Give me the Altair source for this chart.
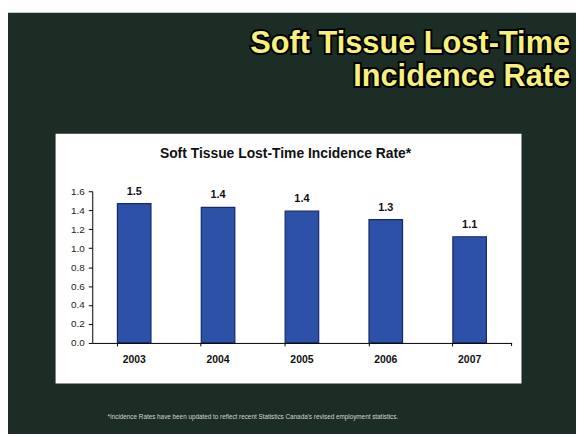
import altair as alt
import pandas as pd

years = ["2003", "2004", "2005", "2006", "2007"]
rates = [1.47, 1.43, 1.39, 1.30, 1.12]
labels = ["1.5", "1.4", "1.4", "1.3", "1.1"]
y_ticks = [0.0, 0.2, 0.4, 0.6, 0.8, 1.0, 1.2, 1.4, 1.6]

slide_title = ["Soft Tissue Lost-Time", "Incidence Rate"]
chart_title = "Soft Tissue Lost-Time Incidence Rate*"
footnote = "*Incidence Rates have been updated to reflect recent Statistics Canada's revised employment statistics."

df = pd.DataFrame({"year": years, "rate": rates, "label": labels})

W, H = 423, 153
one = alt.Data(values=[{"a": 1}])

slide = alt.Chart(one).mark_rect(color="#1c2d26").encode(
    x=alt.value(-85), x2=alt.value(488), y=alt.value(-180), y2=alt.value(246)
)
panel = alt.Chart(one).mark_rect(color="#ffffff").encode(
    x=alt.value(-37), x2=alt.value(433), y=alt.value(-58), y2=alt.value(194)
)

xs = alt.Scale(domain=years, paddingInner=0.6, paddingOuter=0.3)
ys = alt.Scale(domain=[0, 1.6], nice=False)

x_axis = alt.Axis(labelAngle=0, bandPosition=0, tickSize=3, labelPadding=9,
                  labelFont="Liberation Sans", labelFontSize=10.5, labelFontWeight="bold",
                  labelColor="#111", domainColor="#000", tickColor="#000", zindex=1)
y_axis = alt.Axis(values=y_ticks, format=".1f", tickSize=4, labelPadding=4,
                  labelOverlap=False, labelFlush=False,
                  labelFont="Liberation Sans", labelFontSize=10,
                  labelColor="#222", domainColor="#000", tickColor="#000",
                  grid=False, zindex=1)

bars = alt.Chart(df).mark_bar(color="#2c51a7", stroke="#16286a", strokeWidth=1.2).encode(
    x=alt.X("year:N", scale=xs, sort=years, title=None, axis=x_axis),
    y=alt.Y("rate:Q", scale=ys, title=None, axis=y_axis),
)

vals = alt.Chart(df).mark_text(font="Liberation Sans", fontSize=11, fontWeight="bold",
                               color="#111", dy=-12).encode(
    x=alt.X("year:N", scale=xs, sort=years, title=None, axis=x_axis),
    y=alt.Y("rate:Q", scale=ys, title=None, axis=y_axis),
    text="label:N",
)

endtick = alt.Chart(one).mark_rule(color="#000").encode(
    x=alt.value(W), y=alt.value(H), y2=alt.value(H + 3)
)

ctitle = alt.Chart(one).mark_text(font="Liberation Sans", fontSize=14, fontWeight="bold",
                                  color="#111", align="center", baseline="middle").encode(
    x=alt.value(195), y=alt.value(-38), text=alt.value(chart_title)
)

title_layers = []
for i, line in enumerate(slide_title):
    yb = -139 + i * 33
    outline = alt.Chart(one).mark_text(font="Liberation Sans", fontSize=31, fontWeight="bold",
                                       align="right", baseline="alphabetic",
                                       stroke="#000", strokeWidth=4, fill="#000").encode(
        x=alt.value(482), y=alt.value(yb), text=alt.value(line))
    fillt = alt.Chart(one).mark_text(font="Liberation Sans", fontSize=31, fontWeight="bold",
                                     align="right", baseline="alphabetic",
                                     fill="#f7f07c").encode(
        x=alt.value(482), y=alt.value(yb), text=alt.value(line))
    title_layers += [outline, fillt]

foot = alt.Chart(one).mark_text(font="Liberation Sans", fontSize=6.4, color="#d4d4d4",
                                align="center", baseline="middle").encode(
    x=alt.value(162), y=alt.value(228), text=alt.value(footnote)
)

chart = alt.layer(slide, panel, bars, vals, endtick, ctitle, foot, *title_layers).properties(
    width=W, height=H,
    autosize=alt.AutoSizeParams(type="none"),
    padding={"left": 85, "top": 183, "right": 65, "bottom": 90},
    background="#ffffff",
).configure_view(stroke=None).configure_axis(labelOverlap=False)

chart.save("out.html", embed_options={"renderer": "svg", "actions": False})
